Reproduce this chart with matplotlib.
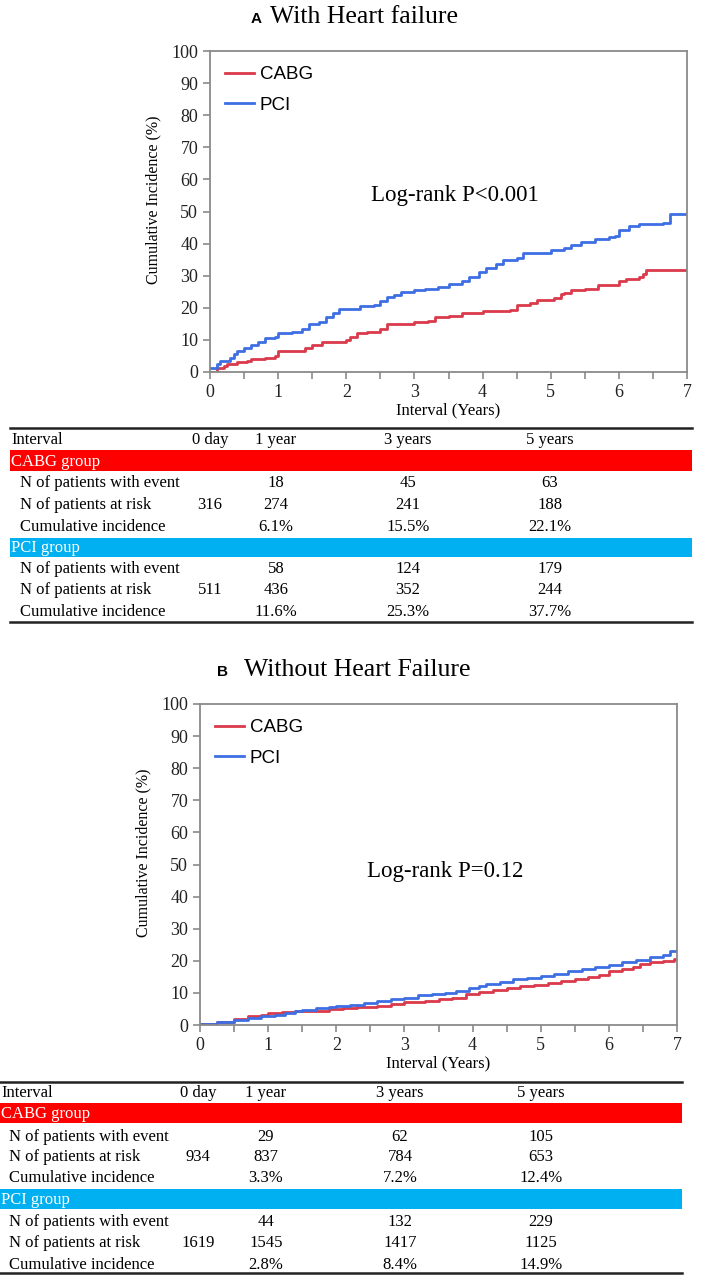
import matplotlib
matplotlib.use("Agg")
import matplotlib.pyplot as plt
from matplotlib.patches import Rectangle

# step curves: (years, cumulative incidence %)
a_cabg_t = [0, 0.1, 0.2, 0.25, 0.4, 0.55, 0.6, 0.8, 0.95, 1.0, 1.3, 1.4, 1.5, 1.65, 1.9, 2.0, 2.05, 2.15,
            2.3, 2.5, 2.6, 2.9, 3.0, 3.2, 3.3, 3.5, 3.7, 3.9, 4.0, 4.4, 4.5, 4.7, 4.8, 5.05, 5.15, 5.2,
            5.3, 5.5, 5.7, 5.95, 6.0, 6.1, 6.3, 6.35, 6.4, 7.0]
a_cabg_y = [0, 1.2, 2.0, 2.5, 3.0, 3.5, 4.0, 4.5, 5.0, 6.5, 6.5, 7.5, 8.5, 9.5, 9.5, 10.0, 11.0, 12.0,
            12.5, 13.5, 15.0, 15.0, 15.5, 16.0, 17.0, 17.5, 18.5, 18.5, 19.0, 19.3, 21.0, 21.5, 22.3, 23.0, 24.3, 24.5,
            25.5, 26.0, 27.0, 27.0, 28.5, 29.0, 29.5, 30.5, 31.8, 31.8]
a_pci_t = [0, 0.1, 0.15, 0.25, 0.3, 0.35, 0.4, 0.5, 0.6, 0.7, 0.8, 0.95, 1.0, 1.2, 1.35, 1.45, 1.6, 1.7,
           1.8, 1.9, 2.1, 2.2, 2.4, 2.5, 2.6, 2.7, 2.8, 3.0, 3.15, 3.35, 3.5, 3.7, 3.8, 3.95, 4.05, 4.2,
           4.3, 4.5, 4.6, 4.9, 5.0, 5.2, 5.3, 5.45, 5.65, 5.85, 5.95, 6.0, 6.15, 6.3, 6.65, 6.75, 7.0]
a_pci_y = [1.2, 2.5, 3.3, 3.5, 4.5, 5.5, 6.5, 7.5, 8.5, 9.5, 10.5, 11.0, 12.0, 12.5, 13.5, 15.0, 15.5, 17.0,
           18.5, 19.5, 19.7, 20.5, 21.0, 22.0, 23.5, 24.0, 25.0, 25.5, 26.0, 26.5, 27.5, 28.5, 29.5, 31.0, 32.5, 33.5,
           35.0, 35.5, 37.0, 37.2, 38.0, 38.5, 39.5, 40.5, 41.5, 42.0, 42.5, 44.3, 45.5, 46.0, 46.5, 49.2, 49.2]

b_cabg_t = [0, 0.25, 0.5, 0.7, 0.9, 1.0, 1.2, 1.4, 1.6, 1.9, 2.1, 2.3, 2.6, 2.8, 3.0, 3.3, 3.5, 3.7,
            3.9, 4.1, 4.3, 4.5, 4.7, 4.9, 5.1, 5.3, 5.5, 5.7, 5.85, 6.0, 6.2, 6.35, 6.45, 6.6, 6.8, 6.95, 7.0]
b_cabg_y = [0.3, 1.0, 2.0, 2.7, 3.2, 3.6, 4.0, 4.3, 4.5, 5.0, 5.2, 5.5, 6.0, 6.5, 7.2, 7.6, 8.2, 8.5,
            9.8, 10.2, 11.0, 11.5, 12.2, 12.5, 13.0, 13.8, 14.2, 14.8, 15.7, 16.8, 17.5, 18.0, 19.0, 19.7, 20.0, 20.5, 20.5]
b_pci_t = [0, 0.25, 0.5, 0.7, 0.9, 1.1, 1.25, 1.4, 1.5, 1.7, 1.9, 2.0, 2.2, 2.4, 2.6, 2.8, 3.0, 3.2,
           3.4, 3.6, 3.75, 3.95, 4.1, 4.2, 4.4, 4.6, 4.8, 5.0, 5.2, 5.4, 5.6, 5.8, 6.0, 6.2, 6.4, 6.6,
           6.8, 6.9, 7.0]
b_pci_y = [0.3, 0.8, 1.7, 2.3, 2.8, 3.1, 3.6, 4.3, 4.7, 5.2, 5.6, 6.0, 6.2, 6.8, 7.5, 8.0, 8.5, 9.2,
           9.7, 10.1, 10.7, 11.5, 12.0, 12.8, 13.5, 14.3, 14.6, 15.2, 15.8, 16.8, 17.3, 18.0, 18.7, 19.5, 20.3, 21.2,
           21.8, 23.0, 23.3]

# risk tables
col_heads = ["Interval", "0 day", "1 year", "3 years", "5 years"]
row_names = ["N of patients with event", "N of patients at risk", "Cumulative incidence"]
a_cabg_tab = [["", "18", "45", "63"], ["316", "274", "241", "188"], ["", "6.1%", "15.5%", "22.1%"]]
a_pci_tab = [["", "58", "124", "179"], ["511", "436", "352", "244"], ["", "11.6%", "25.3%", "37.7%"]]
b_cabg_tab = [["", "29", "62", "105"], ["934", "837", "784", "653"], ["", "3.3%", "7.2%", "12.4%"]]
b_pci_tab = [["", "44", "132", "229"], ["1619", "1545", "1417", "1125"], ["", "2.8%", "8.4%", "14.9%"]]

RED = "#da3a4b"
BLUE = "#3d6fe3"
GRAY = "#8a8a8a"
SERIF = ["Liberation Serif", "DejaVu Serif"]
SANS = ["Liberation Sans", "DejaVu Sans"]

W, H = 709, 1275
fig = plt.figure(figsize=(W / 100, H / 100), dpi=100)

# overlay axes in pixel coordinates for titles and tables
pax = fig.add_axes([0, 0, 1, 1])
pax.set_xlim(0, W)
pax.set_ylim(H, 0)
pax.axis("off")


def km_axes(x0, y0, x1, y1, cabg_t, cabg_y, pci_t, pci_y, ptext, py):
    ax = fig.add_axes([x0 / W, 1 - y1 / H, (x1 - x0) / W, (y1 - y0) / H])
    ax.step(cabg_t, cabg_y, where="post", color=RED, lw=2.0, label="CABG")
    ax.step(pci_t, pci_y, where="post", color=BLUE, lw=2.0, label="PCI")
    ax.set_xlim(0, 7)
    ax.set_ylim(0, 100)
    ax.set_xticks(range(0, 8))
    ax.set_xticks([i + 0.5 for i in range(7)], minor=True)
    ax.set_yticks(range(0, 101, 10))
    for s in ax.spines.values():
        s.set_color(GRAY)
        s.set_linewidth(1.3)
    ax.tick_params(which="both", direction="out", color=GRAY, width=1.2, length=5,
                   labelsize=13, labelcolor="#222222")
    for lab in ax.get_xticklabels() + ax.get_yticklabels():
        lab.set_family(SERIF)
    ax.set_xlabel("Interval (Years)", family=SERIF, fontsize=12, labelpad=1)
    ax.set_ylabel("Cumulative Incidence (%)", family=SERIF, fontsize=11.5, labelpad=7)
    ax.yaxis.label.set_y(0.537)
    ax.legend(loc="upper left", frameon=False, handlelength=1.55, handletextpad=0.3,
              labelspacing=0.72, borderaxespad=0.4, prop={"family": SANS, "size": 13.5})
    ax.text(3.6, py, ptext, family=SERIF, fontsize=16.5, ha="center", va="center")
    return ax


km_axes(210, 51, 687, 372, a_cabg_t, a_cabg_y, a_pci_t, a_pci_y, "Log-rank P<0.001", 55)
km_axes(200, 704, 677, 1025, b_cabg_t, b_cabg_y, b_pci_t, b_pci_y, "Log-rank P=0.12", 47.7)

# panel titles
pax.text(256, 23, "A", family=SANS, weight="bold", fontsize=11, ha="center", va="baseline")
pax.text(270, 23, "With Heart failure", family=SERIF, fontsize=18.5, ha="left", va="baseline")
pax.text(223, 676, "B", family=SANS, weight="bold", fontsize=11, ha="center", va="baseline")
pax.text(244, 676, "Without Heart Failure", family=SERIF, fontsize=18.5, ha="left", va="baseline")


def risk_table(x0, x1, cols, top, head_y, bands, rows_y, bottom, groups, indent):
    fs = 12
    pax.plot([x0, x1], [top, top], color="#222222", lw=1.8)
    pax.plot([x0, x1], [bottom, bottom], color="#222222", lw=1.8)
    pax.text(x0 + 1, head_y, col_heads[0], family=SERIF, fontsize=fs, ha="left", va="center")
    for cx, h in zip(cols, col_heads[1:]):
        pax.text(cx, head_y, h, family=SERIF, fontsize=fs, ha="center", va="center")
    for (name, color, (b0, b1)), ys, vals in zip(bands, rows_y, groups):
        pax.add_patch(Rectangle((x0, b0), x1 - x0, b1 - b0, color=color, lw=0))
        pax.text(x0 + 1, (b0 + b1) / 2 + 1, name, family=SERIF, fontsize=fs, color="white",
                 ha="left", va="center")
        for y, rn, rv in zip(ys, row_names, vals):
            pax.text(x0 + indent, y, rn, family=SERIF, fontsize=fs, ha="left", va="center")
            for cx, v in zip(cols, rv):
                pax.text(cx, y, v, family=SERIF, fontsize=fs, ha="center", va="center")


risk_table(10, 692, [210, 276, 408, 550], 428, 440,
           [("CABG group", "#ff0000", (450, 471)), ("PCI group", "#00b0f0", (538, 557))],
           [[483, 505, 527], [569, 590, 612]], 622, [a_cabg_tab, a_pci_tab], 10)
risk_table(0, 682, [198, 266, 400, 541], 1082, 1093,
           [("CABG group", "#ff0000", (1103, 1123)), ("PCI group", "#00b0f0", (1189, 1209))],
           [[1137, 1157, 1178], [1222, 1243, 1265]], 1273, [b_cabg_tab, b_pci_tab], 9)

fig.savefig("out.png", dpi=100)
